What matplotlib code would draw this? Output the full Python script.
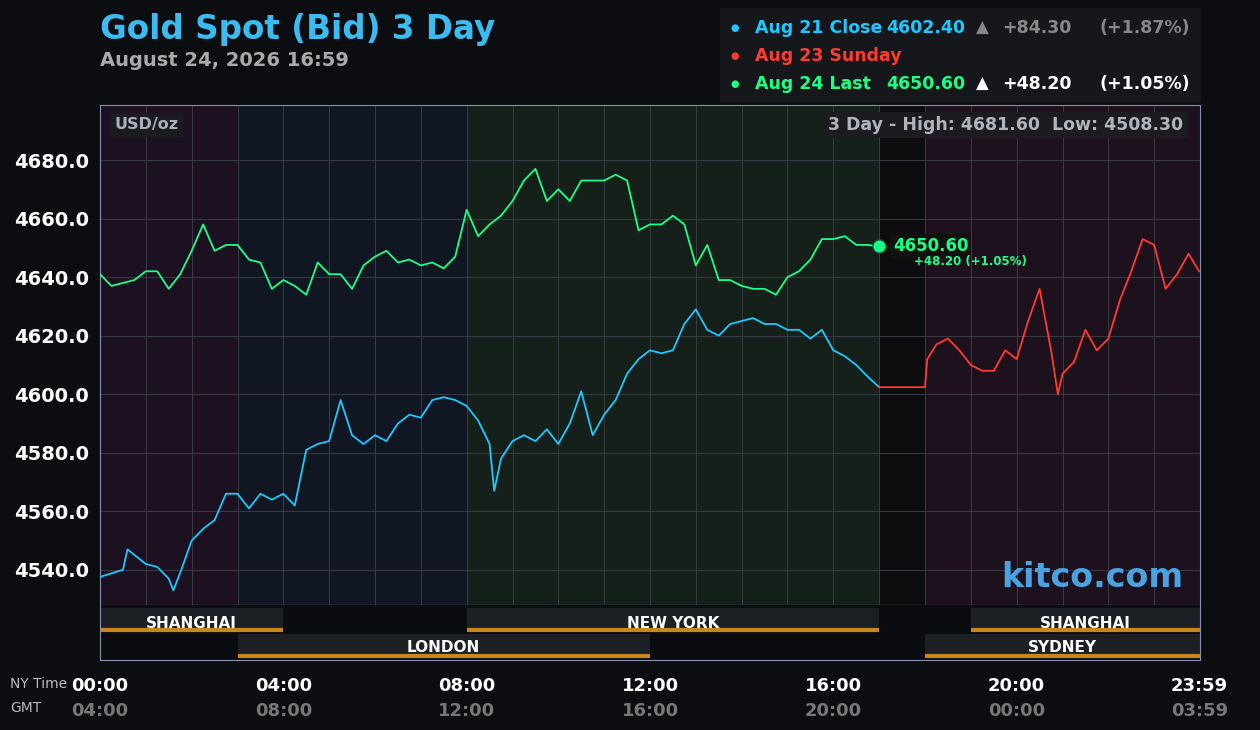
import matplotlib
matplotlib.use("Agg")
import matplotlib.pyplot as plt
from matplotlib.patches import Rectangle

hours_a = [0,0.5,0.6,1,1.25,1.5,1.6,1.75,2,2.25,2.5,2.75,3,3.25,3.5,3.75,4,4.25,4.5,4.75,5,5.25,5.5,5.75,6,6.25,6.5,6.75,7,7.25,7.5,7.75,8,8.25,8.5,8.6,8.75,9,9.25,9.5,9.75,10,10.25,10.5,10.75,11,11.25,11.5,11.75,12,12.25,12.5,12.75,13,13.25,13.5,13.75,14,14.25,14.5,14.75,15,15.25,15.5,15.75,16,16.25,16.5,16.75,17]
aug21 = [4537.6,4540,4547,4542,4541,4537,4533,4539,4550,4554,4557,4566,4566,4561,4566,4564,4566,4562,4581,4583,4584,4598,4586,4583,4586,4584,4590,4593,4592,4598,4599,4598,4596,4591,4583,4567,4578,4584,4586,4584,4588,4583,4590,4601,4586,4593,4598,4607,4612,4615,4614,4615,4624,4629,4622,4620,4624,4625,4626,4624,4624,4622,4622,4619,4622,4615,4613,4610,4606,4602.4]
hours_c = [0,0.25,0.5,0.75,1,1.25,1.5,1.75,2,2.25,2.5,2.75,3,3.25,3.5,3.75,4,4.25,4.5,4.75,5,5.25,5.5,5.75,6,6.25,6.5,6.75,7,7.25,7.5,7.75,8,8.25,8.5,8.75,9,9.25,9.5,9.75,10,10.25,10.5,10.75,11,11.25,11.5,11.75,12,12.25,12.5,12.75,13,13.25,13.5,13.75,14,14.25,14.5,14.75,15,15.25,15.5,15.75,16,16.25,16.5,16.75,17]
aug24 = [4641,4637,4638,4639,4642,4642,4636,4641,4649,4658,4649,4651,4651,4646,4645,4636,4639,4637,4634,4645,4641,4641,4636,4644,4647,4649,4645,4646,4644,4645,4643,4647,4663,4654,4658,4661,4666,4673,4677,4666,4670,4666,4673,4673,4673,4675,4673,4656,4658,4658,4661,4658,4644,4651,4639,4639,4637,4636,4636,4634,4640,4642,4646,4653,4653,4654,4651,4651,4650.6]
hours_b = [17,18,18.05,18.25,18.5,18.75,19,19.25,19.5,19.75,20,20.25,20.5,20.75,20.9,21,21.25,21.5,21.75,22,22.25,22.5,22.75,23,23.25,23.5,23.75,23.98]
aug23 = [4602.4,4602.4,4612,4617,4619,4615,4610,4608,4608,4615,4612,4625,4636,4615,4600,4607,4611,4622,4615,4619,4632,4642,4653,4651,4636,4641,4648,4642]

yticks = [4540,4560,4580,4600,4620,4640,4660,4680]
xticks = [0,4,8,12,16,20,23.983]
ny_labels = ["00:00","04:00","08:00","12:00","16:00","20:00","23:59"]
gmt_labels = ["04:00","08:00","12:00","16:00","20:00","00:00","03:59"]
sessions_row1 = [("SHANGHAI",0,4),("NEW YORK",8,17),("SHANGHAI",19,24)]
sessions_row2 = [("LONDON",3,12),("SYDNEY",18,24)]

BG = "#0b0d10"
fig = plt.figure(figsize=(12.6,7.3), dpi=100, facecolor=BG)
ax = fig.add_axes([100/1260, 125/730, 1100/1260, 500/730])
ax.set_facecolor("#14121a")
ax.set_xlim(0,24); ax.set_ylim(4528,4698.8)
for (a,b,c) in [(0,3,"#1c1120"),(3,8,"#111722"),(8,17,"#15201a"),(17,18,"#0d0d10"),(18,24,"#1c111c")]:
    ax.axvspan(a,b,color=c,zorder=0,lw=0)
for h in range(1,24):
    ax.axvline(h,color="#3a3b44",lw=0.7,zorder=1)
for y in yticks:
    ax.axhline(y,color="#3a3b44",lw=0.7,zorder=1)
ax.plot(hours_a,aug21,color="#1ec8ff",lw=1.3,zorder=3)
ax.plot(hours_c,aug24,color="#1aff88",lw=1.3,zorder=3)
ax.plot(hours_b,aug23,color="#ff3b30",lw=1.3,zorder=3)
ax.scatter([17],[aug24[-1]],s=90,color="#1aff88",edgecolor="#0a5a30",zorder=4)
ax.text(17.3,4650.6,"4650.60",color="#1aff88",fontsize=12,fontweight="bold",va="center",zorder=5,
        bbox=dict(facecolor="#111111",edgecolor="none",pad=2))
ax.text(17.75,4645.5,"+48.20 (+1.05%)",color="#1aff88",fontsize=8.5,fontweight="bold",va="center",zorder=5)
ax.set_xticks([]); ax.set_yticks(yticks)
ax.set_yticklabels([f"{v:.1f}" for v in yticks],color="white",fontsize=14,fontweight="bold")
ax.tick_params(axis="y",length=0,pad=8)
for s in ax.spines.values(): s.set_color("#8a8fb0")
ax.text(0.013,0.96,"USD/oz",transform=ax.transAxes,color="#aab0bb",fontsize=11.5,fontweight="bold",va="center",
        bbox=dict(facecolor="#1c1c20",edgecolor="none",pad=3))
ax.text(0.985,0.96,"3 Day - High: 4681.60  Low: 4508.30",transform=ax.transAxes,color="#b0b4bd",fontsize=12.5,
        fontweight="bold",ha="right",va="center",bbox=dict(facecolor="#1c1c20",edgecolor="none",pad=3))
ax.text(0.985,0.055,"kitco.com",transform=ax.transAxes,color="#4aa3e0",fontsize=24,fontweight="bold",ha="right",va="center")

sx = fig.add_axes([100/1260, 70/730, 1100/1260, 55/730])
sx.set_facecolor("#0b0c0f"); sx.set_xlim(0,24); sx.set_ylim(0,55)
sx.set_xticks([]); sx.set_yticks([])
for s in sx.spines.values(): s.set_color("#8a8fb0")
sx.spines["top"].set_visible(False)
for (n,a,b) in sessions_row1:
    sx.add_patch(Rectangle((a,29),b-a,23,color="#1c1f24",lw=0))
    sx.plot([a,b],[30.5,30.5],color="#c8861e",lw=3,solid_capstyle="butt")
    sx.text((a+b)/2,37,n,color="white",fontsize=11,fontweight="bold",ha="center",va="center")
for (n,a,b) in sessions_row2:
    sx.add_patch(Rectangle((a,2),b-a,24,color="#1c1f24",lw=0))
    sx.plot([a,b],[4.5,4.5],color="#c8861e",lw=3,solid_capstyle="butt")
    sx.text((a+b)/2,12,n,color="white",fontsize=11,fontweight="bold",ha="center",va="center")

for x,l1,l2 in zip(xticks,ny_labels,gmt_labels):
    fx = (100 + x/24*1100)/1260
    fig.text(fx,44/730,l1,color="white",fontsize=13,fontweight="bold",ha="center",va="center")
    fig.text(fx,19/730,l2,color="#777",fontsize=13,fontweight="bold",ha="center",va="center")
fig.text(10/1260,46/730,"NY Time",color="#bbb",fontsize=10,va="center")
fig.text(10/1260,22/730,"GMT",color="#bbb",fontsize=10,va="center")

fig.text(100/1260,700/730,"Gold Spot (Bid) 3 Day",color="#3bbcf0",fontsize=23.5,fontweight="bold",va="center")
fig.text(100/1260,669/730,"August 24, 2026 16:59",color="#aaaaaa",fontsize=14,fontweight="bold",va="center")
fig.patches.append(Rectangle((720/1260,628/730),480/1260,94/730,transform=fig.transFigure,color="#15171b",zorder=0))
rows = [("Aug 21 Close","4602.40","▲","+84.30","(+1.87%)","#1ec8ff","#888"),
        ("Aug 23 Sunday","","","","","#ff3b30",None),
        ("Aug 24 Last","4650.60","▲","+48.20","(+1.05%)","#1aff88","white")]
for i,(n,v,arr,ch,pc,c,c2) in enumerate(rows):
    y = (702-28*i)/730
    fig.text(730/1260,y,"●",color=c,fontsize=7,va="center")
    fig.text(755/1260,y,n,color=c,fontsize=12.5,fontweight="bold",va="center")
    if v:
        fig.text(965/1260,y,v,color=c,fontsize=12.5,fontweight="bold",va="center",ha="right")
        fig.text(976/1260,y,arr,color=c2,fontsize=12,va="center")
        fig.text(1002/1260,y,ch,color=c2,fontsize=12.5,fontweight="bold",va="center")
        fig.text(1190/1260,y,pc,color=c2,fontsize=12.5,fontweight="bold",va="center",ha="right")
fig.savefig("out.png",dpi=100,facecolor=BG)
